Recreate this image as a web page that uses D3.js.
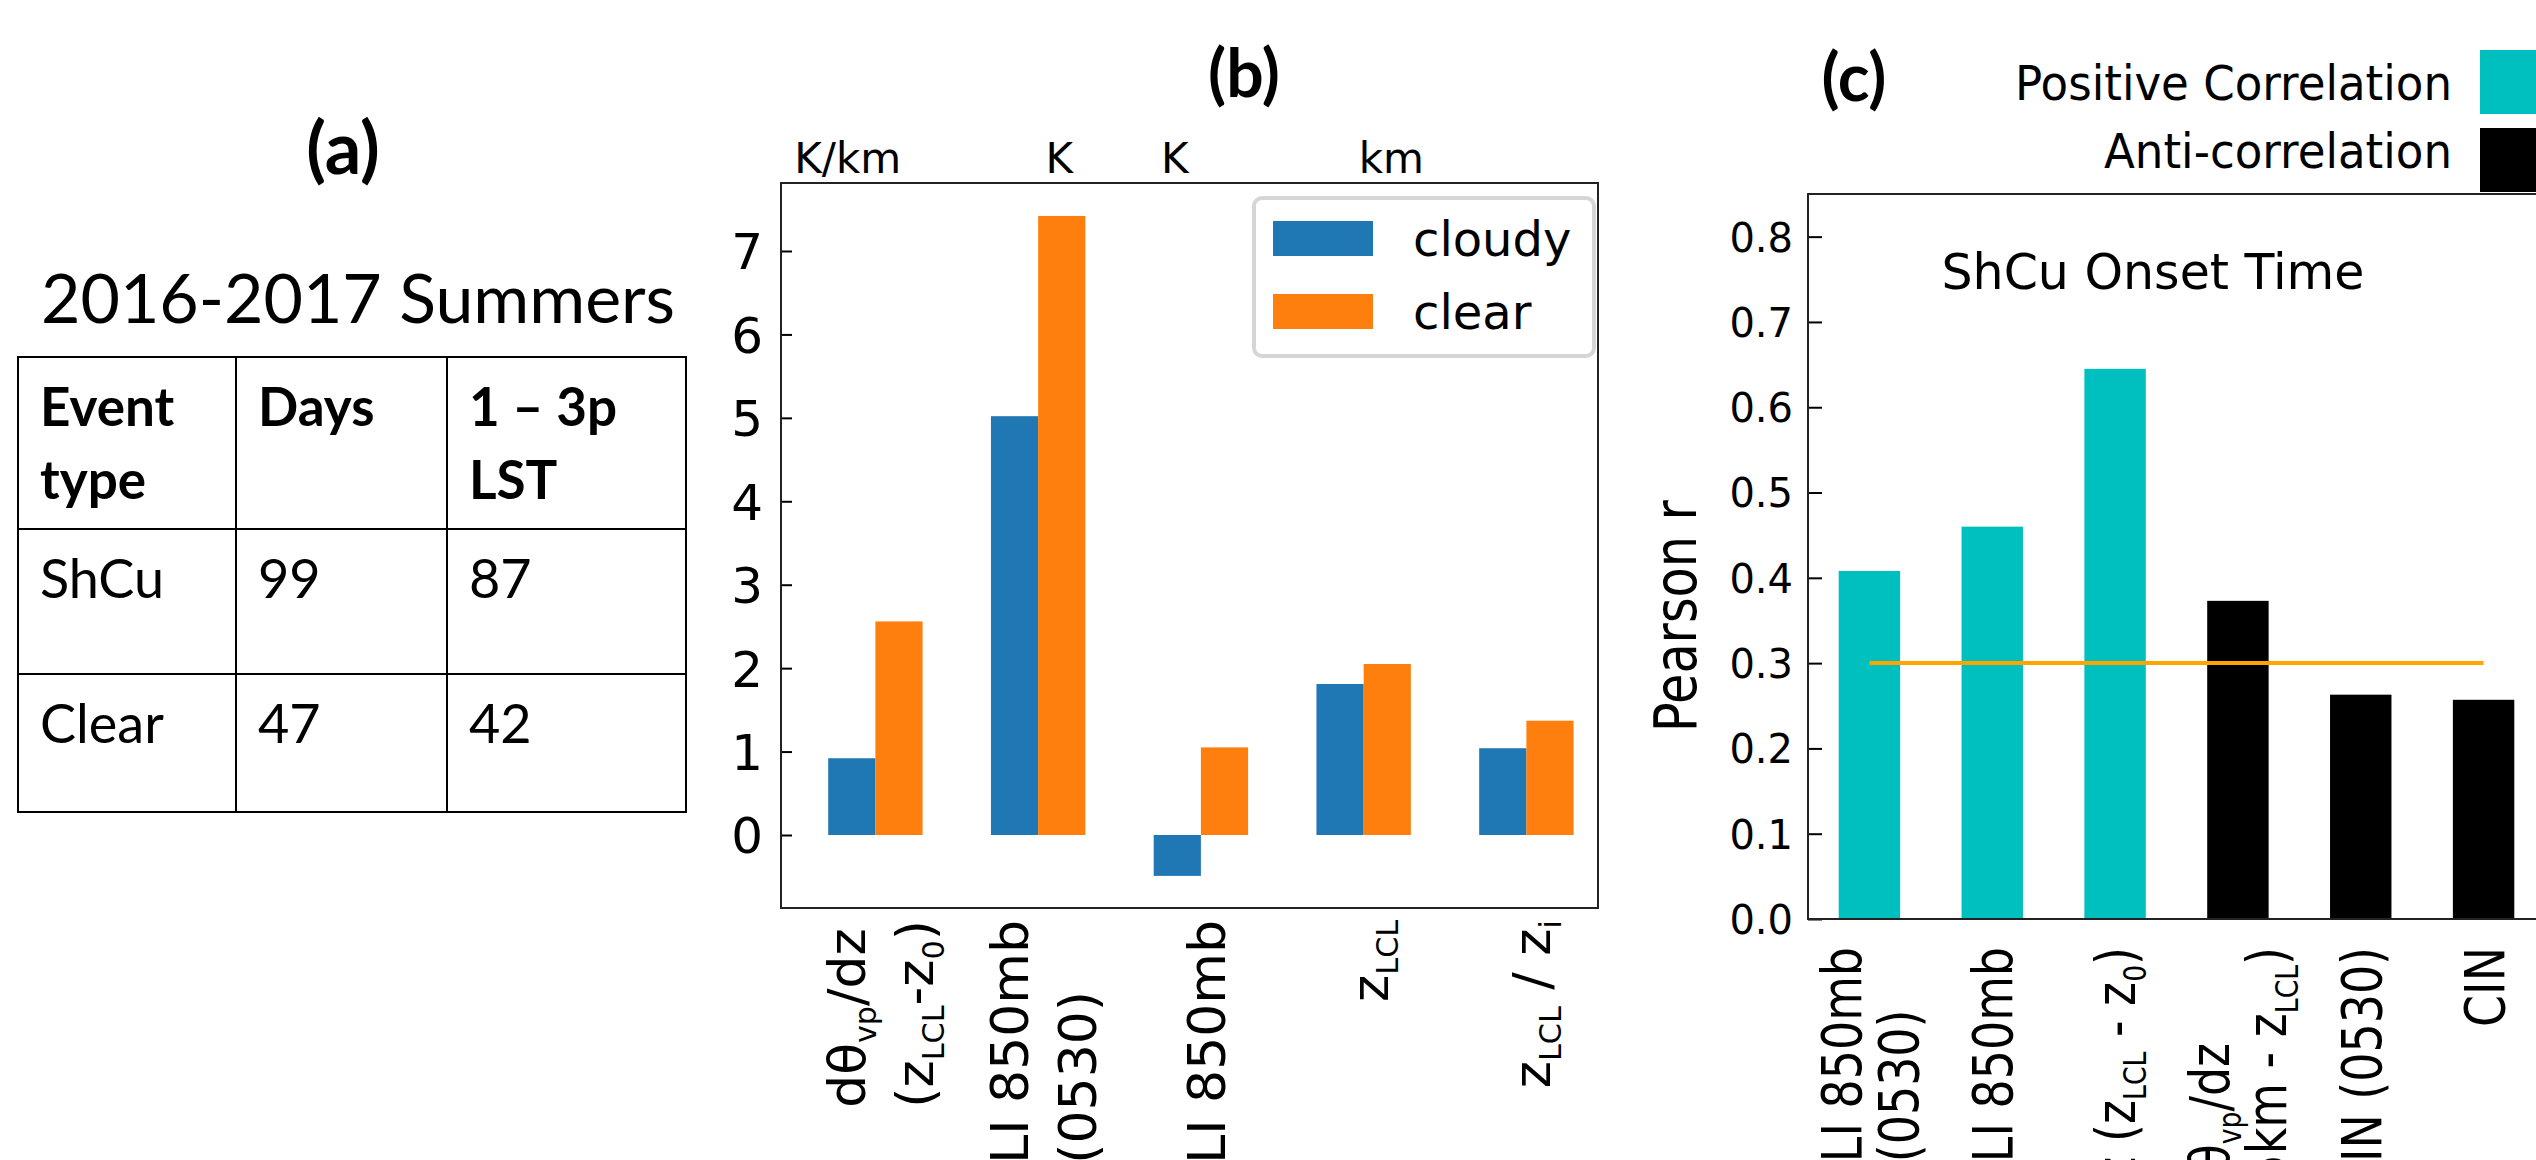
<!DOCTYPE html>
<html>
<head>
<meta charset="utf-8">
<script src="https://cdn.jsdelivr.net/npm/d3@7"></script>
<style>
  body { margin: 0; background: #fff; }
  svg { display: block; }
  text { white-space: pre; }
</style>
</head>
<body>
<script>
// ---- panel (a): event counts table
const tableTitle = "2016-2017 Summers";
const tableHeader = [["Event", "type"], ["Days"], ["1 – 3p", "LST"]];
const tableRows = [["ShCu", "99", "87"], ["Clear", "47", "42"]];

// ---- panel (b): cloudy vs clear composites
const bCategories = [
  "dθ_{vp}/dz\n(z_{LCL}-z_{0})",
  "LI 850mb\n(0530)",
  "LI 850mb",
  "z_{LCL}",
  "z_{LCL} / z_{i}"
];
const bCloudy = [0.92, 5.02, -0.49, 1.81, 1.04];
const bClear = [2.56, 7.42, 1.05, 2.05, 1.37];
const bSeries = ["cloudy", "clear"];
const bColors = ["#1f77b4", "#ff7f0e"];
const bUnits = ["K/km", "K", "K", "km"];
const bUnitSlots = [-0.17, 1.13, 1.84, 3.17];   // x (category units) of the unit labels
const bTicks = [0, 1, 2, 3, 4, 5, 6, 7];

// ---- panel (c): Pearson r with ShCu onset time
const cCategories = [
  "LI 850mb\n(0530)",
  "LI 850mb",
  "dθ_{vp}/dz (z_{LCL} - z_{0})",
  "dθ_{vp}/dz\n(5km - z_{LCL})",
  "CIN (0530)",
  "CIN"
];
const cValues = [0.408, 0.460, 0.645, 0.373, 0.263, 0.257];
const cKind = ["pos", "pos", "pos", "anti", "anti", "anti"];
const cLegend = ["Positive Correlation", "Anti-correlation"];
const cColors = { pos: "#00bfbf", anti: "#000000" };
const cThreshold = 0.3;
const cTicks = [0, 0.1, 0.2, 0.3, 0.4, 0.5, 0.6, 0.7, 0.8];

const W = 2536, H = 1160;
const plotFont = "'DejaVu Sans', sans-serif";
const officeFont = "Lato, 'Open Sans', sans-serif";

let svg = d3.select("body").append("svg")
  .attr("width", W)
  .attr("height", H);

svg.append("rect").attr("width", W).attr("height", H).attr("fill", "#fff");

// write "a_{b}" style strings as tspans with subscripts
function addRich(t, str, size) {
  let parts = str.split(/(_\{[^}]*\})/).filter((s) => s.length);
  let shifted = false;
  parts.forEach((p) => {
    let sub = p.startsWith("_{");
    let ts = t.append("tspan").text(sub ? p.slice(2, -1) : p);
    if (sub) {
      ts.style("font-size", (size * 0.58) + "px").attr("dy", size * 0.2);
      shifted = true;
    } else if (shifted) {
      ts.attr("dy", -size * 0.2);
      shifted = false;
    }
  });
}

// rotated category labels, lines aligned at their bottom end like matplotlib
function drawXLabels(g, cats, xScale, axisY, opt) {
  cats.forEach((label, i) => {
    let lines = label.split("\n");
    let n = lines.length;
    let holder = g.append("g")
      .attr("transform", "translate(" + xScale(i) + "," + axisY + ") rotate(-90) scale(" + opt.squeeze + ",1)");
    let texts = lines.map((line, k) => {
      let t = holder.append("text")
        .attr("y", opt.shift + (k - (n - 1) / 2) * opt.lead)
        .style("font-family", plotFont)
        .style("font-size", opt.size + "px")
        .attr("fill", "#000");
      addRich(t, line, opt.size);
      return t;
    });
    let maxLen = d3.max(texts, (t) => t.node().getComputedTextLength());
    texts.forEach((t) => t.attr("x", -(opt.pad / opt.squeeze + maxLen)));
  });
}

function drawTable() {
  let g = svg.append("g");
  g.append("text")
    .attr("x", 343).attr("y", 174)
    .attr("text-anchor", "middle")
    .style("font-family", officeFont).style("font-weight", "bold").style("font-size", "72px")
    .text("(a)");

  g.append("text")
    .attr("x", 41).attr("y", 323)
    .style("font-family", officeFont).style("font-size", "68px")
    .text(tableTitle);

  let colX = [18, 236, 447, 686];
  let rowY = [357, 529, 674, 812];

  colX.forEach((x) => {
    g.append("line").attr("x1", x).attr("x2", x).attr("y1", rowY[0] - 1).attr("y2", rowY[3] + 1)
      .attr("stroke", "#000").attr("stroke-width", 2);
  });
  rowY.forEach((y) => {
    g.append("line").attr("x1", colX[0] - 1).attr("x2", colX[3] + 1).attr("y1", y).attr("y2", y)
      .attr("stroke", "#000").attr("stroke-width", 2);
  });

  tableHeader.forEach((lines, j) => {
    lines.forEach((t, k) => {
      g.append("text")
        .attr("x", colX[j] + 22).attr("y", rowY[0] + 69 + k * 73)
        .style("font-family", officeFont).style("font-weight", "bold").style("font-size", "53px")
        .text(t);
    });
  });

  tableRows.forEach((row, i) => {
    row.forEach((t, j) => {
      g.append("text")
        .attr("x", colX[j] + 22).attr("y", rowY[i + 1] + 69)
        .style("font-family", officeFont).style("font-size", "54px")
        .text(t);
    });
  });
}

function drawPanelB() {
  let g = svg.append("g");
  let left = 781, right = 1598, top = 183, bottom = 908;
  let barW = 0.29;

  let x = d3.scaleLinear().domain([-0.58, 4.44]).range([left, right]);
  let y = d3.scaleLinear().domain([-0.875, 7.815]).range([bottom, top]);

  g.append("text")
    .attr("x", 1244).attr("y", 97)
    .attr("text-anchor", "middle")
    .style("font-family", officeFont).style("font-weight", "bold").style("font-size", "66px")
    .text("(b)");

  let series = [bCloudy, bClear];
  series.forEach((vals, s) => {
    g.selectAll(".bar" + s)
      .data(vals)
      .enter()
      .append("rect")
        .attr("x", (d, i) => x(i + (s - 1) * barW))
        .attr("width", x(barW) - x(0))
        .attr("y", (d) => y(Math.max(d, 0)))
        .attr("height", (d) => Math.abs(y(d) - y(0)))
        .attr("fill", bColors[s]);
  });

  let yAxis = d3.axisLeft(y).tickValues(bTicks).tickSize(-11).tickPadding(18).tickFormat(d3.format("d"));
  let ag = g.append("g").attr("transform", "translate(" + left + ",0)").call(yAxis);
  ag.select(".domain").remove();
  ag.selectAll("line").attr("stroke", "#000").attr("stroke-width", 2);
  ag.selectAll("text")
    .attr("dy", "0.36em")
    .style("font-family", plotFont).style("font-size", "50px").attr("fill", "#000");

  g.append("rect")
    .attr("x", left).attr("y", top)
    .attr("width", right - left).attr("height", bottom - top)
    .attr("fill", "none").attr("stroke", "#222").attr("stroke-width", 2);

  bUnits.forEach((u, i) => {
    g.append("text")
      .attr("x", x(bUnitSlots[i])).attr("y", 173)
      .attr("text-anchor", "middle")
      .style("font-family", plotFont).style("font-size", "42px")
      .text(u);
  });

  // legend
  g.append("rect")
    .attr("x", 1254).attr("y", 198)
    .attr("width", 340).attr("height", 158)
    .attr("rx", 8)
    .attr("fill", "#fff").attr("stroke", "#d6d6d6").attr("stroke-width", 4);
  bSeries.forEach((name, i) => {
    g.append("rect")
      .attr("x", 1273).attr("y", 221 + i * 73)
      .attr("width", 100).attr("height", 35)
      .attr("fill", bColors[i]);
    g.append("text")
      .attr("x", 1413).attr("y", 256 + i * 73)
      .style("font-family", plotFont).style("font-size", "48px")
      .text(name);
  });

  drawXLabels(g, bCategories, x, bottom, { size: 52, squeeze: 1, pad: 12, lead: 68, shift: 24 });
}

function drawPanelC() {
  let g = svg.append("g");
  let left = 1808, top = 194, bottom = 919;

  let x = d3.scaleLinear().domain([-0.5, 5.5]).range([left, 2545]);
  let y = d3.scaleLinear().domain([0, 0.85]).range([bottom, top]);

  g.append("text")
    .attr("x", 1854).attr("y", 101)
    .attr("text-anchor", "middle")
    .style("font-family", officeFont).style("font-weight", "bold").style("font-size", "66px")
    .text("(c)");

  // legend, markers on the right
  cLegend.forEach((name, i) => {
    g.append("text")
      .attr("transform", "translate(2452," + (100 + i * 68) + ") scale(0.94,1)")
      .attr("text-anchor", "end")
      .style("font-family", plotFont).style("font-size", "48px")
      .text(name);
    g.append("rect")
      .attr("x", 2480).attr("y", 50 + i * 78)
      .attr("width", 100).attr("height", 64)
      .attr("fill", i === 0 ? cColors.pos : cColors.anti);
  });

  g.selectAll(".cbar")
    .data(cValues)
    .enter()
    .append("rect")
      .attr("x", (d, i) => x(i - 0.25))
      .attr("width", x(0.5) - x(0))
      .attr("y", (d) => y(d))
      .attr("height", (d) => y(0) - y(d))
      .attr("fill", (d, i) => cColors[cKind[i]]);

  g.append("line")
    .attr("x1", x(0)).attr("x2", x(cValues.length - 1))
    .attr("y1", y(cThreshold)).attr("y2", y(cThreshold))
    .attr("stroke", "#ffa500").attr("stroke-width", 4);

  let yAxis = d3.axisLeft(y).tickValues(cTicks).tickSize(-14).tickPadding(15).tickFormat(d3.format(".1f"));
  let ag = g.append("g").attr("transform", "translate(" + left + ",0)").call(yAxis);
  ag.select(".domain").remove();
  ag.selectAll("line").attr("stroke", "#000").attr("stroke-width", 2);
  ag.selectAll("text")
    .attr("dy", "0.36em")
    .style("font-family", plotFont).style("font-size", "40px").attr("fill", "#000");

  g.append("rect")
    .attr("x", left).attr("y", top)
    .attr("width", 2545 - left).attr("height", bottom - top)
    .attr("fill", "none").attr("stroke", "#222").attr("stroke-width", 2);

  g.append("text")
    .attr("x", 2153).attr("y", 289)
    .attr("text-anchor", "middle")
    .style("font-family", plotFont).style("font-size", "49px")
    .text("ShCu Onset Time");

  g.append("text")
    .attr("transform", "translate(1696,616) rotate(-90) scale(0.85,1)")
    .attr("text-anchor", "middle")
    .style("font-family", plotFont).style("font-size", "58px")
    .text("Pearson r");

  drawXLabels(g, cCategories, x, bottom, { size: 56, squeeze: 0.82, pad: 28, lead: 57, shift: 20 });
}

drawTable();
drawPanelB();
drawPanelC();
</script>
</body>
</html>
